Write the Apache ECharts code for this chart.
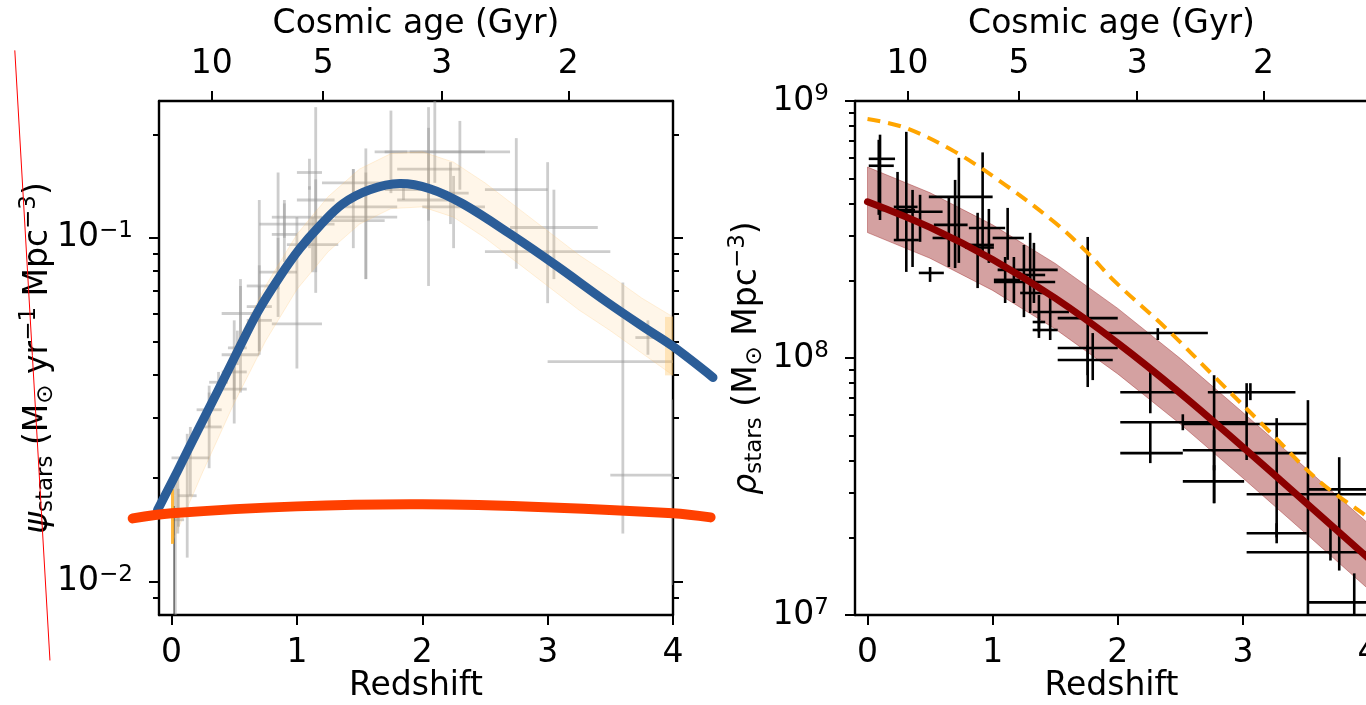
<!DOCTYPE html>
<html><head><meta charset="utf-8">
<script src="https://cdn.jsdelivr.net/npm/echarts@6/dist/echarts.min.js"></script>
<style>html,body{margin:0;padding:0;background:#fff;}#c{width:1366px;height:705px;}</style>
</head><body><div id="c"></div>
<script>
// ================= DATA =================
const xTicks = [0, 1, 2, 3, 4];
const ageLabels = ['10', '5', '3', '2'];
const ageTickZ = [0.32, 1.21, 2.155, 3.165];
const sfrdMajorTicks = [0.01, 0.1];
const sfrdMinorTicks = [0.009, 0.02, 0.03, 0.04, 0.05, 0.06, 0.07, 0.08, 0.09, 0.2];
const massMajorTicks = [1e7, 1e8, 1e9];
const massMinorTicks = [2e7, 3e7, 4e7, 5e7, 6e7, 7e7, 8e7, 9e7, 2e8, 3e8, 4e8, 5e8, 6e8, 7e8, 8e8, 9e8];

// SFR density compilation: [zLo, zHi, log10 psi, +err, -err]
const sfrdPoints = [
  [0.01, 0.1, -1.82, 0.09, 0.02], [0.2, 0.4, -1.50, 0.05, 0.05], [0.4, 0.6, -1.39, 0.15, 0.08],
  [0.6, 0.8, -1.20, 0.31, 0.13], [0.8, 1.2, -1.25, 0.31, 0.13], [0.05, 0.05, -1.77, 0.08, 0.09],
  [0.05, 0.2, -1.75, 0.18, 0.18], [0.2, 0.4, -1.55, 0.12, 0.12], [0.4, 0.6, -1.44, 0.10, 0.10],
  [0.6, 0.8, -1.24, 0.10, 0.10], [0.8, 1.0, -0.99, 0.09, 0.08], [1.0, 1.2, -0.94, 0.09, 0.09],
  [1.2, 1.7, -0.95, 0.15, 0.08], [1.7, 2.5, -0.75, 0.49, 0.09], [2.5, 3.5, -1.04, 0.26, 0.15],
  [3.5, 4.5, -1.69, 0.22, 0.32], [0.92, 1.33, -1.02, 0.08, 0.08], [1.62, 1.88, -0.75, 0.12, 0.12],
  [2.08, 2.37, -0.87, 0.09, 0.09], [1.9, 2.7, -0.75, 0.09, 0.11], [2.7, 3.4, -0.97, 0.11, 0.15],
  [3.7, 3.9, -1.29, 0.05, 0.05], [0.03, 0.03, -1.72, 0.02, 0.03], [0.03, 0.03, -1.95, 0.20, 0.20],
  [0.4, 0.7, -1.34, 0.22, 0.11], [0.7, 1.0, -0.96, 0.15, 0.19], [1.0, 1.3, -0.89, 0.27, 0.21],
  [1.3, 1.8, -0.91, 0.17, 0.21], [1.8, 2.3, -0.89, 0.21, 0.25], [0.4, 0.7, -1.22, 0.08, 0.11],
  [0.7, 1.0, -1.10, 0.10, 0.13], [1.0, 1.3, -0.96, 0.13, 0.20], [1.3, 1.8, -0.94, 0.13, 0.18],
  [1.8, 2.3, -0.80, 0.18, 0.15], [0.0, 0.3, -1.64, 0.09, 0.11], [0.3, 0.45, -1.42, 0.03, 0.04],
  [0.45, 0.6, -1.32, 0.05, 0.05], [0.6, 0.8, -1.14, 0.06, 0.06], [0.8, 1.0, -0.94, 0.05, 0.06],
  [1.0, 1.2, -0.81, 0.04, 0.05], [1.2, 1.7, -0.84, 0.04, 0.04], [1.7, 2.0, -0.86, 0.02, 0.03],
  [2.0, 2.5, -0.91, 0.09, 0.12], [2.5, 3.0, -0.86, 0.15, 0.23], [3.0, 4.2, -1.36, 0.23, 0.50]
];
// thin dark error line near z = 0: [z, log10 top, log10 bottom]
const sfrdDarkLine = [0.02, -1.78, -2.2];
const sfrdBandZ = [0, 0.25, 0.5, 0.75, 1.0, 1.25, 1.5, 1.75, 2.0, 2.25, 2.5, 2.75, 3.0, 3.25, 3.5, 3.75, 4.0];
const sfrdBandHiLog = [-1.73, -1.52, -1.32, -1.14, -0.99, -0.88, -0.80, -0.755, -0.75, -0.78, -0.84, -0.91, -0.98, -1.05, -1.11, -1.175, -1.23];
const sfrdBandLoLog = [-1.89, -1.68, -1.48, -1.30, -1.15, -1.04, -0.96, -0.915, -0.91, -0.94, -1.00, -1.07, -1.14, -1.21, -1.27, -1.335, -1.40];
const blueCurveZ = [-0.112, 0.048, 0.208, 0.367, 0.527, 0.687, 0.862, 1.022, 1.182, 1.365, 1.581, 1.82, 2.06, 2.323, 2.723, 3.074, 3.473, 3.792, 4.0, 4.319];
const blueCurveLog = [-1.792, -1.678, -1.561, -1.447, -1.330, -1.216, -1.114, -1.032, -0.965, -0.901, -0.860, -0.842, -0.857, -0.901, -0.994, -1.082, -1.187, -1.266, -1.316, -1.406];
const redCurveZ = [-0.31, 0, 1.0, 2.0, 3.03, 4.0, 4.3];
const redCurveLog = [-1.816, -1.801, -1.781, -1.775, -1.784, -1.801, -1.813];
const annotZ = [-1.25, -0.97];
const annotLog = [-0.456, -2.228];

// Stellar mass density: [zLo, zHi, z, log10 rho, log10 lo, log10 hi]
const massPoints = [
  [0.01, 0.22, 0.10, 8.775, 8.537, 8.869], [0.01, 0.21, 0.09, 8.748, 8.557, 8.849],
  [0.21, 0.40, 0.31, 8.588, 8.335, 8.880], [0.10, 0.38, 0.24, 8.576, 8.459, 8.724],
  [0.21, 0.41, 0.36, 8.459, 8.354, 8.654], [0.26, 0.60, 0.42, 8.569, 8.452, 8.635],
  [0.41, 0.61, 0.50, 8.331, 8.296, 8.354], [0.49, 1.00, 0.73, 8.627, 8.370, 8.779],
  [0.53, 0.80, 0.65, 8.518, 8.354, 8.627], [0.52, 0.72, 0.70, 8.467, 8.350, 8.693],
  [0.81, 1.10, 0.92, 8.506, 8.400, 8.800], [0.76, 1.01, 0.88, 8.440, 8.272, 8.565],
  [0.78, 1.01, 0.97, 8.430, 8.370, 8.580], [1.00, 1.25, 1.12, 8.467, 8.382, 8.584],
  [1.01, 1.22, 1.10, 8.304, 8.214, 8.393], [1.04, 1.52, 1.17, 8.343, 8.214, 8.393],
  [1.01, 1.50, 1.25, 8.296, 8.159, 8.440], [1.18, 1.42, 1.30, 8.323, 8.175, 8.487],
  [1.22, 1.42, 1.33, 8.253, 8.214, 8.448], [1.32, 1.61, 1.37, 8.179, 8.078, 8.245],
  [1.32, 1.42, 1.37, 8.140, 8.100, 8.180], [1.32, 1.52, 1.46, 8.109, 8.070, 8.237],
  [1.52, 2.00, 1.76, 8.155, 7.887, 8.471], [1.52, 2.00, 1.80, 8.039, 7.914, 8.097],
  [1.52, 1.96, 1.76, 7.992, 7.933, 8.050], [1.92, 2.72, 2.32, 8.097, 8.070, 8.116],
  [2.02, 2.52, 2.26, 7.867, 7.785, 7.961], [2.02, 2.52, 2.26, 7.630, 7.591, 7.747],
  [2.02, 3.03, 2.52, 7.750, 7.719, 7.781], [2.52, 3.03, 2.77, 7.750, 7.435, 7.933],
  [2.52, 3.03, 2.77, 7.641, 7.563, 7.719], [2.52, 3.01, 2.77, 7.520, 7.435, 7.583],
  [2.72, 3.42, 3.06, 7.867, 7.836, 7.902], [2.52, 3.51, 3.03, 7.743, 7.603, 7.902],
  [3.03, 3.51, 3.27, 7.630, 7.302, 7.766], [3.03, 3.51, 3.27, 7.318, 7.279, 7.357],
  [3.03, 4.02, 3.52, 7.470, 6.862, 7.836], [3.52, 4.26, 3.77, 7.489, 7.173, 7.614],
  [3.03, 4.26, 3.70, 7.244, 7.212, 7.341], [3.52, 4.26, 3.89, 7.049, 6.940, 7.162]
];
const massFitZ = [0, 0.5, 1.0, 1.5, 2.0, 2.5, 3.0, 3.5, 4.0, 4.1];
const massFitLog = [8.608, 8.508, 8.383, 8.233, 8.058, 7.863, 7.653, 7.438, 7.222, 7.179];
const massBandHiLog = [8.743, 8.643, 8.518, 8.368, 8.193, 7.998, 7.788, 7.573, 7.357, 7.314];
const massBandLoLog = [8.488, 8.388, 8.263, 8.113, 7.938, 7.743, 7.533, 7.318, 7.102, 7.059];
const massDashZ = [0, 0.3, 0.7, 1.1, 1.5, 1.76, 1.98, 2.4, 2.8, 3.2, 3.6, 4.0, 4.1];
const massDashLog = [8.93, 8.896, 8.802, 8.674, 8.526, 8.409, 8.296, 8.109, 7.914, 7.72, 7.525, 7.38, 7.34];

// ================= CHART =================
const FONT = 'DejaVu Sans';
const AX = '#000';
const P = v => Math.pow(10, v);

const richLabel = {
  b: { fontSize: 33, fontFamily: FONT, color: AX, lineHeight: 36, verticalAlign: 'middle' },
  s: { fontSize: 23, fontFamily: FONT, color: AX, lineHeight: 23, verticalAlign: 'top' }
};
const richName = {
  it: { fontSize: 33, fontFamily: FONT, fontStyle: 'italic', color: AX, lineHeight: 40, verticalAlign: 'middle' },
  t: { fontSize: 33, fontFamily: FONT, color: AX, lineHeight: 40, verticalAlign: 'middle' },
  sub: { fontSize: 23, fontFamily: FONT, color: AX, lineHeight: 23, verticalAlign: 'bottom' },
  sup: { fontSize: 23, fontFamily: FONT, color: AX, lineHeight: 23, verticalAlign: 'top' }
};
function powLabel(v) {
  const e = Math.round(Math.log10(v));
  return '{b|10}{s|' + (e < 0 ? '\u2212' + (-e) : e) + '}';
}
function ageFmt(v) {
  let best = 0;
  ageTickZ.forEach((z, i) => { if (Math.abs(z - v) < Math.abs(ageTickZ[best] - v)) best = i; });
  return ageLabels[best];
}

function xBottom(gi) {
  return {
    gridIndex: gi, type: 'value', position: 'bottom', min: -0.1, max: 4,
    axisLine: { show: true, onZero: false, lineStyle: { color: AX, width: 2.4 } },
    axisTick: { show: true, customValues: xTicks, length: 10, lineStyle: { color: AX, width: 2 } },
    axisLabel: { show: true, customValues: xTicks, margin: 22, fontSize: 33, fontFamily: FONT, color: AX },
    splitLine: { show: false },
    name: 'Redshift', nameLocation: 'middle', nameGap: 55, nameMoveOverlap: false,
    nameTextStyle: { fontSize: 33, fontFamily: FONT, color: AX }
  };
}
function xTop(gi) {
  return {
    gridIndex: gi, type: 'value', position: 'top', min: -0.1, max: 4,
    axisLine: { show: true, onZero: false, lineStyle: { color: AX, width: 2.4 } },
    axisTick: { show: true, customValues: ageTickZ, length: 10, lineStyle: { color: AX, width: 2 } },
    axisLabel: { show: true, customValues: ageTickZ, margin: 20, fontSize: 33, fontFamily: FONT, color: AX, formatter: ageFmt },
    splitLine: { show: false },
    name: 'Cosmic age (Gyr)', nameLocation: 'middle', nameGap: 60, nameMoveOverlap: false,
    nameTextStyle: { fontSize: 33, fontFamily: FONT, color: AX }
  };
}
function yAx(gi, pos, min, max, ticks, len, showLine, showLabel, name, nameGap) {
  const a = {
    gridIndex: gi, type: 'log', logBase: 10, position: pos, min: min, max: max,
    axisLine: { show: showLine, onZero: false, lineStyle: { color: AX, width: 2.4 } },
    axisTick: { show: true, customValues: ticks, length: len, lineStyle: { color: AX, width: 2 } },
    axisLabel: { show: showLabel, customValues: ticks, margin: 26, formatter: powLabel, rich: richLabel },
    splitLine: { show: false }, minorTick: { show: false }
  };
  if (name) {
    a.name = name; a.nameLocation = 'middle'; a.nameGap = nameGap; a.nameRotate = 90;
    a.nameMoveOverlap = false;
    a.nameTextStyle = { fontSize: 33, fontFamily: FONT, color: AX, rich: richName };
  }
  return a;
}

function errRender(color, width) {
  return function (params, api) {
    const z = api.value(0), v = api.value(1), zl = api.value(2), zh = api.value(3), vl = api.value(4), vh = api.value(5);
    const a = api.coord([zl, v]), b = api.coord([zh, v]), c = api.coord([z, vl]), d = api.coord([z, vh]);
    return {
      type: 'group', children: [
        { type: 'line', shape: { x1: a[0], y1: a[1], x2: b[0], y2: b[1] }, style: { stroke: color, lineWidth: width } },
        { type: 'line', shape: { x1: c[0], y1: c[1], x2: d[0], y2: d[1] }, style: { stroke: color, lineWidth: width } }
      ]
    };
  };
}
function bandRender(zs, hi, lo, fill, stroke, ends) {
  return function (params, api) {
    const pts = [];
    for (let i = 0; i < zs.length; i++) pts.push(api.coord([zs[i], P(hi[i])]));
    for (let i = zs.length - 1; i >= 0; i--) pts.push(api.coord([zs[i], P(lo[i])]));
    const children = [{ type: 'polygon', shape: { points: pts }, style: { fill: fill, stroke: stroke, lineWidth: 1 } }];
    if (ends) {
      const n = zs.length - 1;
      const a0 = api.coord([zs[0], P(hi[0])]), b0 = api.coord([zs[0], P(lo[0])]);
      const a1 = api.coord([zs[n], P(hi[n])]), b1 = api.coord([zs[n], P(lo[n])]);
      children.push({ type: 'line', shape: { x1: a0[0] + 1, y1: a0[1], x2: b0[0] + 1, y2: b0[1] }, style: { stroke: 'rgba(255,170,20,0.8)', lineWidth: 3 } });
      children.push({ type: 'line', shape: { x1: a1[0] - 4, y1: a1[1], x2: b1[0] - 4, y2: b1[1] }, style: { stroke: 'rgba(255,190,80,0.32)', lineWidth: 8 } });
    }
    return { type: 'group', children: children };
  };
}
function strokeRender(zs, logs, color, width, smooth, dash) {
  return function (params, api) {
    const pts = zs.map((z, i) => api.coord([z, P(logs[i])]));
    const st = { stroke: color, lineWidth: width, fill: null, lineCap: dash ? 'butt' : 'round', lineJoin: 'round' };
    if (dash) st.lineDash = dash;
    return { type: 'polyline', shape: { points: pts, smooth: smooth }, style: st };
  };
}
function darkRender(params, api) {
  const a = api.coord([sfrdDarkLine[0], P(sfrdDarkLine[1])]), b = api.coord([sfrdDarkLine[0], P(sfrdDarkLine[2])]);
  return { type: 'line', shape: { x1: a[0], y1: a[1], x2: b[0], y2: b[1] }, style: { stroke: 'rgba(30,30,30,0.8)', lineWidth: 1.2 } };
}

const sfrdData = sfrdPoints.map(r => {
  const zc = (r[0] + r[1]) / 2;
  return [zc, P(r[2]), r[0], r[1], P(r[2] - r[4]), P(r[2] + r[3])];
});
const massData = massPoints.map(r => [r[2], P(r[3]), r[0], r[1], P(r[4]), P(r[5])]);
const dummyL = [[1, 0.05]];
const dummyR = [[1, 1e8]];

const option = {
  animation: false,
  backgroundColor: '#fff',
  textStyle: { fontFamily: FONT },
  grid: [
    { left: 159, right: 693, top: 101, bottom: 90, outerBoundsMode: 'none', containLabel: false },
    { left: 855, right: -2, top: 101, bottom: 90, outerBoundsMode: 'none', containLabel: false }
  ],
  xAxis: [xBottom(0), xTop(0), xBottom(1), xTop(1)],
  yAxis: [
    yAx(0, 'left', 0.008, 0.25, sfrdMajorTicks, 10, true, true,
      '{it|\u03c8}{sub|stars}{t| (M}{sub|\u2299}{t| yr}{sup|\u22121}{t| Mpc}{sup|\u22123}{t|)}', 101),
    yAx(0, 'left', 0.008, 0.25, sfrdMinorTicks, 6, false, false),
    yAx(0, 'right', 0.008, 0.25, sfrdMajorTicks, 10, true, false),
    yAx(0, 'right', 0.008, 0.25, sfrdMinorTicks, 6, false, false),
    yAx(1, 'left', 1e7, 1e9, massMajorTicks, 10, true, true,
      '{it|\u03c1}{sub|stars}{t| (M}{sub|\u2299}{t| Mpc}{sup|\u22123}{t|)}', 88),
    yAx(1, 'left', 1e7, 1e9, massMinorTicks, 6, false, false)
  ],
  series: [
    { type: 'custom', name: 'SFRD data', xAxisIndex: 0, yAxisIndex: 0, clip: true, z: 2, silent: true,
      encode: { x: [0, 2, 3], y: [1, 4, 5] }, data: sfrdData, renderItem: errRender('rgba(150,150,150,0.48)', 2.8) },
    { type: 'custom', name: 'SFRD dark', xAxisIndex: 0, yAxisIndex: 0, clip: true, z: 2, silent: true,
      encode: { x: 0, y: 1 }, data: dummyL, renderItem: darkRender },
    { type: 'custom', name: 'SFRD band', xAxisIndex: 0, yAxisIndex: 0, clip: true, z: 3, silent: true,
      encode: { x: 0, y: 1 }, data: dummyL,
      renderItem: bandRender(sfrdBandZ, sfrdBandHiLog, sfrdBandLoLog, 'rgba(255,190,100,0.14)', 'rgba(255,190,100,0.22)', true) },
    { type: 'custom', name: 'blue', xAxisIndex: 0, yAxisIndex: 0, clip: false, z: 6, silent: true,
      encode: { x: 0, y: 1 }, data: dummyL, renderItem: strokeRender(blueCurveZ, blueCurveLog, '#2B5D98', 9, 0.35) },
    { type: 'custom', name: 'red', xAxisIndex: 0, yAxisIndex: 0, clip: false, z: 7, silent: true,
      encode: { x: 0, y: 1 }, data: dummyL, renderItem: strokeRender(redCurveZ, redCurveLog, '#FF4000', 10, 0.35) },
    { type: 'custom', name: 'annot', xAxisIndex: 0, yAxisIndex: 0, clip: false, z: 8, silent: true,
      encode: { x: 0, y: 1 }, data: dummyL, renderItem: strokeRender(annotZ, annotLog, '#FF0000', 1, 0) },

    { type: 'custom', name: 'mass band', xAxisIndex: 2, yAxisIndex: 4, clip: true, z: 2, silent: true,
      encode: { x: 0, y: 1 }, data: dummyR,
      renderItem: bandRender(massFitZ, massBandHiLog, massBandLoLog, 'rgba(139,0,0,0.37)', 'rgba(139,0,0,0.35)', false) },
    { type: 'custom', name: 'mass data', xAxisIndex: 2, yAxisIndex: 4, clip: true, z: 3, silent: true,
      encode: { x: [0, 2, 3], y: [1, 4, 5] }, data: massData, renderItem: errRender('#000', 2.6) },
    { type: 'custom', name: 'mass fit', xAxisIndex: 2, yAxisIndex: 4, clip: true, z: 4, silent: true,
      encode: { x: 0, y: 1 }, data: dummyR, renderItem: strokeRender(massFitZ, massFitLog, '#8B0000', 7, 0.4) },
    { type: 'custom', name: 'mass dashed', xAxisIndex: 2, yAxisIndex: 4, clip: true, z: 5, silent: true,
      encode: { x: 0, y: 1 }, data: dummyR, renderItem: strokeRender(massDashZ, massDashLog, '#FFA500', 4, 0.35, [13, 8]) }
  ]
};
const chart = echarts.init(document.getElementById('c'), null, { renderer: 'canvas', width: 1366, height: 705 });
chart.setOption(option);
</script>
</body></html>
